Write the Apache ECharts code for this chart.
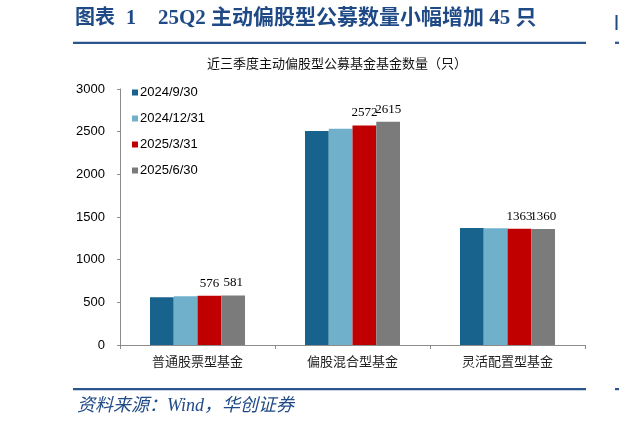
<!DOCTYPE html>
<html>
<head>
<meta charset="utf-8">
<script src="https://cdn.jsdelivr.net/npm/echarts@6/dist/echarts.min.js"></script>
<style>
  html, body { margin: 0; padding: 0; background: #fff; }
  #chart-container { width: 619px; height: 426px; }
</style>
</head>
<body>
<div id="chart-container"></div>
<script>
// 資料
const categories = ['普通股票型基金', '偏股混合型基金', '灵活配置型基金'];
const seriesNames = ['2024/9/30', '2024/12/31', '2025/3/31', '2025/6/30'];
const q3_2024 = [560, 2508, 1372];
const q4_2024 = [570, 2535, 1368];
const q1_2025 = [576, 2572, 1363];
const q2_2025 = [581, 2615, 1360];
const yTicks = [0, 500, 1000, 1500, 2000, 2500, 3000];

const colors = ['#17638D', '#70B0CB', '#C00000', '#7B7B7B'];
const navy = '#1F4A86';
const cjk = '"Noto Sans CJK SC"';
const serif = '"Liberation Serif", ' + cjk;

function renderChart() {
  var dom = document.getElementById('chart-container');
  var myChart = echarts.init(dom, null, { renderer: 'canvas' });

  const allData = [q3_2024, q4_2024, q1_2025, q2_2025];

  // 只有後兩季顯示數字
  const series = seriesNames.map((name, i) => {
    return {
      name: name,
      type: 'bar',
      data: allData[i],
      barGap: '0%',
      barCategoryGap: '38.7%',
      itemStyle: { color: colors[i] },
      label: {
        show: i >= 2,
        position: 'top',
        distance: 6,
        color: '#000',
        fontFamily: serif,
        fontSize: 13
      }
    };
  });

  var option = {
    backgroundColor: '#fff',
    animation: false,
    grid: { left: 120, right: 34, top: 89, bottom: 81 },
    legend: {
      orient: 'vertical',
      left: 127,
      top: 81,
      itemWidth: 6,
      itemHeight: 6,
      itemGap: 13,
      icon: 'rect',
      data: seriesNames,
      textStyle: {
        fontFamily: '"Liberation Sans", Arial',
        fontSize: 13,
        color: '#000',
        padding: [0, 0, 0, -3]
      }
    },
    xAxis: {
      type: 'category',
      data: categories,
      axisLine: { lineStyle: { color: '#8c8c8c', width: 1 } },
      axisTick: { show: true, length: 4, lineStyle: { color: '#8c8c8c' } },
      axisLabel: {
        margin: 10,
        fontFamily: cjk,
        fontSize: 13,
        color: '#222'
      }
    },
    yAxis: {
      type: 'value',
      min: yTicks[0],
      max: yTicks[yTicks.length - 1],
      interval: 500,
      splitLine: { show: false },
      axisLine: { show: true, lineStyle: { color: '#8c8c8c', width: 1 } },
      axisTick: { show: true, length: 3, lineStyle: { color: '#8c8c8c' } },
      axisLabel: {
        margin: 15,
        formatter: v => String(v),
        fontFamily: '"Liberation Sans", Arial',
        fontSize: 13,
        color: '#000'
      }
    },
    series: series,
    graphic: [
      // 標題
      { type: 'text', left: 75, top: 9,
        style: { text: '图表', font: 'bold 20px ' + serif, fill: navy } },
      { type: 'text', left: 126, top: 9,
        style: { text: '1', font: 'bold 20px ' + serif, fill: navy } },
      { type: 'text', left: 158, top: 8,
        style: { text: '25Q2 主动偏股型公募数量小幅增加 45 只', font: 'bold 21px ' + serif, fill: navy } },
      { type: 'rect', shape: { x: 73, y: 41.7, width: 513, height: 2.2 }, style: { fill: '#2A5490' } },
      { type: 'rect', shape: { x: 615.5, y: 15, width: 2, height: 15 }, style: { fill: navy } },
      { type: 'rect', shape: { x: 615, y: 41.7, width: 4, height: 2.2 }, style: { fill: '#2A5490' } },
      // 副標題
      { type: 'text', x: 337, y: 63,
        style: { text: '近三季度主动偏股型公募基金基金数量（只）', font: '13px ' + cjk, fill: '#111',
          textAlign: 'center', textVerticalAlign: 'middle' } },
      // 資料來源
      { type: 'rect', shape: { x: 73, y: 388, width: 513, height: 2.2 }, style: { fill: '#2A5490' } },
      { type: 'rect', shape: { x: 615, y: 388, width: 4, height: 2.2 }, style: { fill: '#2A5490' } },
      { type: 'text', x: 77, y: 406,
        style: { text: '资料来源：Wind，华创证券', font: 'italic 18px ' + serif, fill: navy,
          textVerticalAlign: 'middle' } }
    ]
  };

  myChart.setOption(option);
  window.addEventListener('resize', myChart.resize);
}
renderChart();
</script>
</body>
</html>
